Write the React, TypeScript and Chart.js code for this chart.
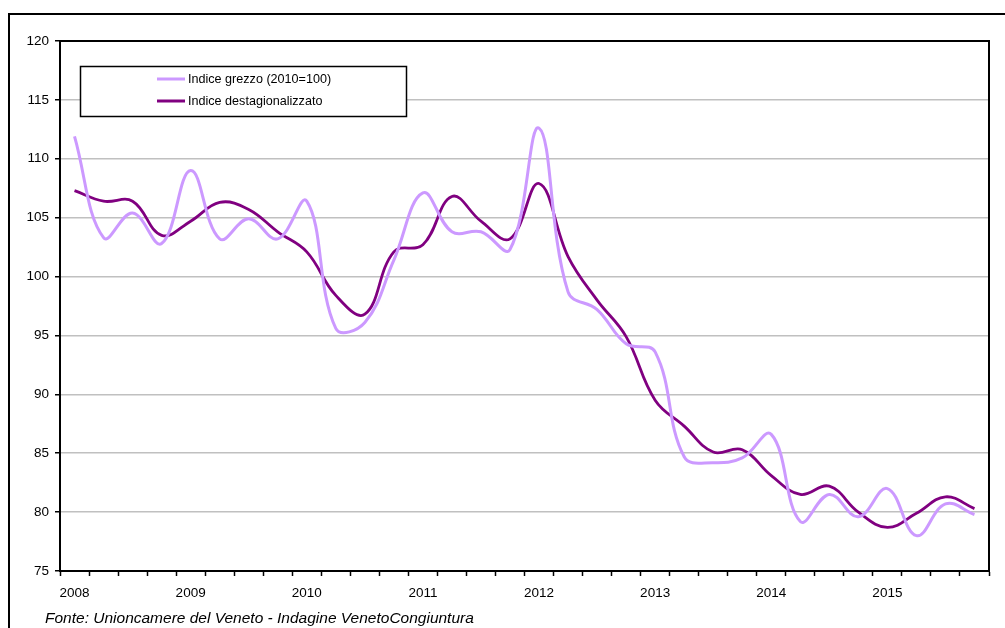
import React, { useEffect, useRef } from "react";
import { Chart, registerables } from "chart.js";

Chart.register(...registerables);

const quarters = [
  "2008 I", "2008 II", "2008 III", "2008 IV",
  "2009 I", "2009 II", "2009 III", "2009 IV",
  "2010 I", "2010 II", "2010 III", "2010 IV",
  "2011 I", "2011 II", "2011 III", "2011 IV",
  "2012 I", "2012 II", "2012 III", "2012 IV",
  "2013 I", "2013 II", "2013 III", "2013 IV",
  "2014 I", "2014 II", "2014 III", "2014 IV",
  "2015 I", "2015 II", "2015 III", "2015 IV",
];

const yearLabels = ["2008", "2009", "2010", "2011", "2012", "2013", "2014", "2015"];

const indiceGrezzo = [
  111.9, 103.3, 105.4, 102.8,
  109.0, 103.2, 104.9, 103.2,
  106.4, 95.6, 96.1, 101.4,
  107.1, 103.8, 103.8, 102.3,
  112.6, 98.7, 97.2, 94.3,
  93.6, 84.7, 84.2, 84.6,
  86.6, 79.2, 81.5, 79.6,
  82.0, 78.0, 80.7, 79.8,
];

const indiceDestagionalizzato = [
  107.3, 106.4, 106.4, 103.5,
  104.7, 106.3, 105.7, 103.8,
  102.1, 98.4, 96.8, 102.1,
  102.7, 106.8, 104.7, 103.2,
  107.9, 101.7, 98.0, 94.9,
  89.5, 87.3, 85.1, 85.3,
  83.1, 81.5, 82.2, 80.0,
  78.7, 79.9, 81.3, 80.3,
];

const seriesNames = ["Indice grezzo (2010=100)", "Indice destagionalizzato"];
const seriesColors = ["#CC99FF", "#800080"];
const yMin = 75;
const yMax = 120;
const yStep = 5;
const sourceNote = "Fonte: Unioncamere del Veneto - Indagine VenetoCongiuntura";

const FONT = "'Liberation Sans', Arial, sans-serif";

const decorPlugin = {
  id: "decor",
  beforeDraw(chart: any) {
    const ctx = chart.ctx;
    ctx.save();
    ctx.fillStyle = "#ffffff";
    ctx.fillRect(0, 0, chart.width, chart.height);
    ctx.strokeStyle = "#000000";
    ctx.lineWidth = 2;
    ctx.beginPath();
    ctx.moveTo(9, chart.height + 4);
    ctx.lineTo(9, 14);
    ctx.lineTo(chart.width + 4, 14);
    ctx.stroke();
    ctx.restore();
  },
  afterDraw(chart: any) {
    const ctx = chart.ctx;
    const a = chart.chartArea;
    ctx.save();
    // plot frame top & right
    ctx.strokeStyle = "#000000";
    ctx.lineWidth = 2;
    ctx.beginPath();
    ctx.moveTo(a.left, a.top);
    ctx.lineTo(a.right, a.top);
    ctx.lineTo(a.right, a.bottom);
    ctx.stroke();

    // legend box
    const lx = 80, ly = 66, lw = 326, lh = 50;
    ctx.fillStyle = "#ffffff";
    ctx.fillRect(lx, ly, lw, lh);
    ctx.lineWidth = 1.5;
    ctx.strokeStyle = "#000000";
    ctx.strokeRect(lx + 0.5, ly + 0.5, lw, lh);
    const rows = [79, 101];
    ctx.font = "12.6px " + FONT;
    ctx.textBaseline = "middle";
    ctx.textAlign = "left";
    for (let i = 0; i < seriesNames.length; i++) {
      ctx.strokeStyle = seriesColors[i];
      ctx.lineWidth = 3;
      ctx.beginPath();
      ctx.moveTo(157, rows[i]);
      ctx.lineTo(185, rows[i]);
      ctx.stroke();
      ctx.fillStyle = "#000000";
      ctx.fillText(seriesNames[i], 188, rows[i] + 0.5);
    }

    // source note
    ctx.font = "italic 15.5px " + FONT;
    ctx.fillStyle = "#000000";
    ctx.textBaseline = "middle";
    ctx.fillText(sourceNote, 45, 619);
    ctx.restore();
  },
};

export default function App() {
  const canvasRef = useRef<HTMLCanvasElement | null>(null);

  useEffect(() => {
    const canvas = canvasRef.current;
    if (!canvas) return;
    const chart = new Chart(canvas, {
      type: "line",
      data: {
        labels: quarters,
        datasets: [
          {
            label: seriesNames[0],
            data: indiceGrezzo,
            borderColor: seriesColors[0],
            backgroundColor: seriesColors[0],
            borderWidth: 3,
            pointRadius: 0,
            tension: 0.4,
            fill: false,
          },
          {
            label: seriesNames[1],
            data: indiceDestagionalizzato,
            borderColor: seriesColors[1],
            backgroundColor: seriesColors[1],
            borderWidth: 2.8,
            pointRadius: 0,
            tension: 0.4,
            fill: false,
          },
        ],
      },
      options: {
        responsive: false,
        animation: false,
        devicePixelRatio: 1,
        layout: { padding: { left: 0, top: 41, right: 16, bottom: 0 } },
        plugins: {
          legend: { display: false },
          tooltip: { enabled: false },
          title: { display: false },
        },
        scales: {
          x: {
            type: "category",
            offset: true,
            grid: {
              offset: true,
              drawOnChartArea: false,
              drawTicks: true,
              tickLength: 5,
              tickColor: "#000000",
              tickWidth: 1.5,
            },
            border: { color: "#000000", width: 2 },
            ticks: {
              autoSkip: false,
              maxRotation: 0,
              minRotation: 0,
              color: "#000000",
              font: { family: FONT, size: 13.5 },
              padding: 9,
              callback: (_v: any, i: number) => (i % 4 === 0 ? yearLabels[i / 4] : ""),
            },
            afterFit: (scale: any) => {
              scale.height = 57;
            },
          },
          y: {
            min: yMin,
            max: yMax,
            grid: {
              color: "#c0c0c0",
              lineWidth: 1.5,
              drawTicks: true,
              tickLength: 5,
              tickColor: "#000000",
              tickWidth: 1.5,
            },
            border: { color: "#000000", width: 2 },
            ticks: {
              stepSize: yStep,
              color: "#000000",
              font: { family: FONT, size: 13.5 },
              padding: 6,
            },
            afterFit: (scale: any) => {
              scale.width = 60;
            },
          },
        },
      },
      plugins: [decorPlugin],
    });
    return () => chart.destroy();
  }, []);

  return (
    <div style={{ position: "fixed", left: 0, top: 0, width: 1005, height: 628, background: "#fff" }}>
      <canvas ref={canvasRef} width={1005} height={628} style={{ display: "block" }} />
    </div>
  );
}
